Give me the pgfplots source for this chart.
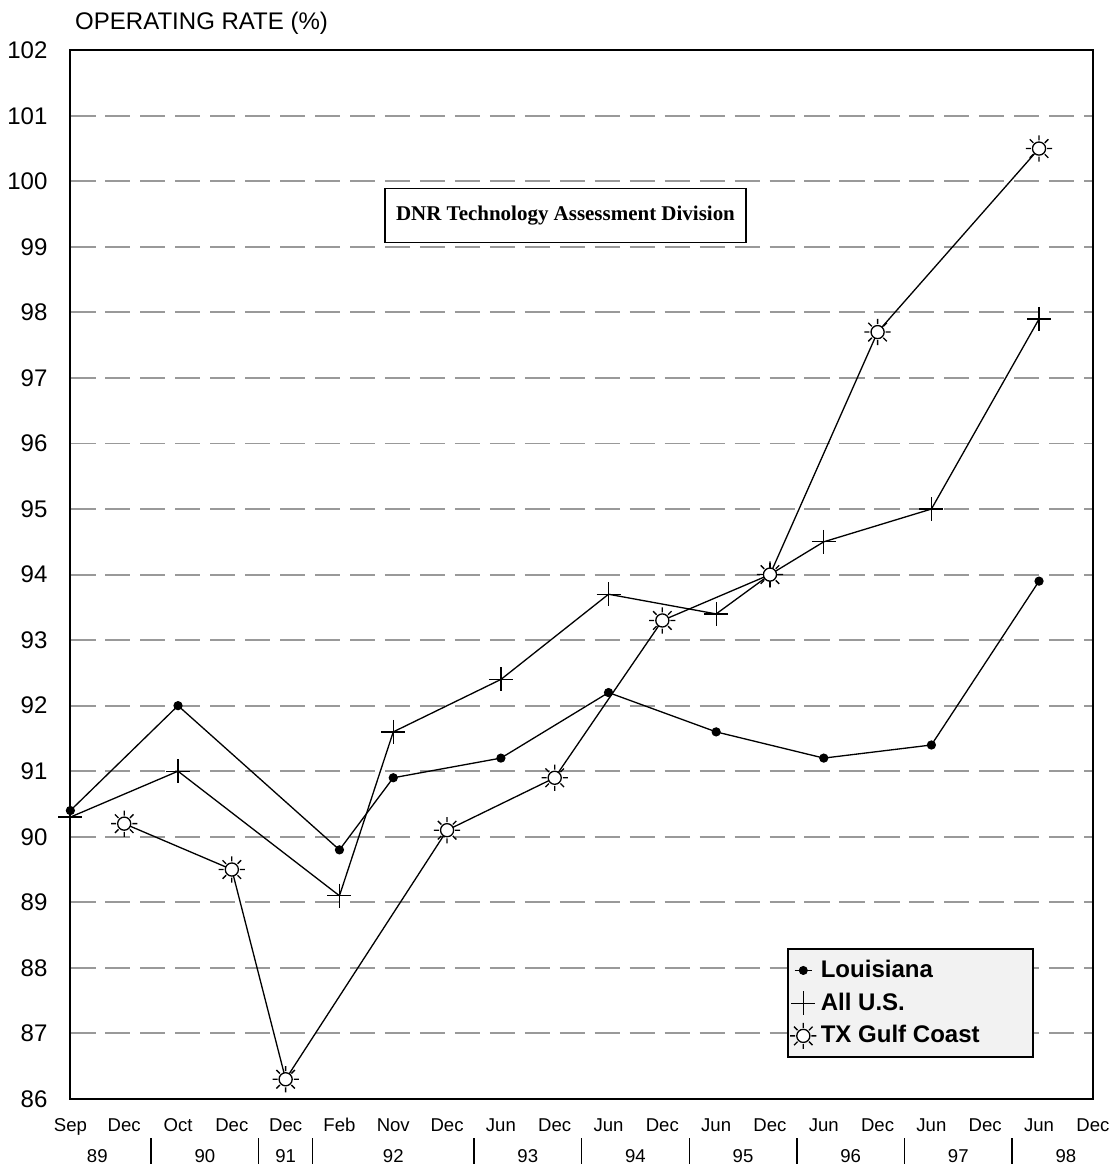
\documentclass[border=0pt]{standalone}
\usepackage{pgfplots}
\pgfplotsset{compat=1.18}
\usepackage{pgfplotstable}
\usepackage{fontspec}
\setmainfont{Liberation Sans}
\newfontfamily\timesfont{Liberation Serif}

% sun-like mark: small circle with rays
\pgfdeclareplotmark{sun}{%
  \pgfpathcircle{\pgfpointorigin}{0.5\pgfplotmarksize}%
  \pgfusepathqfillstroke
  \pgfpathmoveto{\pgfpointpolar{0}{0.62\pgfplotmarksize}}\pgfpathlineto{\pgfpointpolar{0}{\pgfplotmarksize}}%
  \pgfpathmoveto{\pgfpointpolar{45}{0.62\pgfplotmarksize}}\pgfpathlineto{\pgfpointpolar{45}{\pgfplotmarksize}}%
  \pgfpathmoveto{\pgfpointpolar{90}{0.62\pgfplotmarksize}}\pgfpathlineto{\pgfpointpolar{90}{\pgfplotmarksize}}%
  \pgfpathmoveto{\pgfpointpolar{135}{0.62\pgfplotmarksize}}\pgfpathlineto{\pgfpointpolar{135}{\pgfplotmarksize}}%
  \pgfpathmoveto{\pgfpointpolar{180}{0.62\pgfplotmarksize}}\pgfpathlineto{\pgfpointpolar{180}{\pgfplotmarksize}}%
  \pgfpathmoveto{\pgfpointpolar{225}{0.62\pgfplotmarksize}}\pgfpathlineto{\pgfpointpolar{225}{\pgfplotmarksize}}%
  \pgfpathmoveto{\pgfpointpolar{270}{0.62\pgfplotmarksize}}\pgfpathlineto{\pgfpointpolar{270}{\pgfplotmarksize}}%
  \pgfpathmoveto{\pgfpointpolar{315}{0.62\pgfplotmarksize}}\pgfpathlineto{\pgfpointpolar{315}{\pgfplotmarksize}}%
  \pgfusepathqstroke
}

\pgfplotsset{
  dot legend/.style={legend image code/.code={\draw[##1, line width=0.5pt, mark repeat=2, mark phase=2] plot coordinates {(0cm,0cm) (0.14cm,0cm) (0.28cm,0cm)};}},
  mark legend/.style={legend image code/.code={\draw[##1, only marks] plot coordinates {(0.14cm,0cm)};}},
}

% x index: 0=Sep 89, 1=Dec 89, 2=Oct 90, 3=Dec 90, 4=Dec 91, 5=Feb 92, 6=Nov 92, 7=Dec 92, 8=Jun 93, ...
\pgfplotstableread{
x y
0 90.4
2 92.0
5 89.8
6 90.9
8 91.2
10 92.2
12 91.6
14 91.2
16 91.4
18 93.9
}\louisiana

\pgfplotstableread{
x y
0 90.3
2 91.0
5 89.1
6 91.6
8 92.4
10 93.7
12 93.4
13 94.0
14 94.5
16 95.0
18 97.9
}\allus

\pgfplotstableread{
x y
1 90.2
3 89.5
4 86.3
7 90.1
9 90.9
11 93.3
13 94.0
15 97.7
18 100.5
}\txgulf

\begin{document}
\begin{tikzpicture}
\begin{axis}[
  scale only axis,
  width=468pt, height=480pt,
  xmin=0, xmax=19,
  ymin=86, ymax=102,
  ytick={86,...,102},
  xtick={0,...,19},
  xticklabels={Sep,Dec,Oct,Dec,Dec,Feb,Nov,Dec,Jun,Dec,Jun,Dec,Jun,Dec,Jun,Dec,Jun,Dec,Jun,Dec},
  x tick label style={font=\fontsize{8.5}{10}\selectfont, text height=1.6ex, text depth=0.3ex, yshift=-3pt},
  y tick label style={font=\fontsize{11}{13}\selectfont, xshift=-7pt},
  /pgf/number format/assume math mode=true,
  extra x ticks={0.5,2.5,4,6,8.5,10.5,12.5,14.5,16.5,18.5},
  extra x tick labels={89,90,91,92,93,94,95,96,97,98},
  extra x tick style={grid=none, tick label style={yshift=-14pt}},
  tick style={draw=none},
  axis line style={line width=1pt},
  ymajorgrids,
  grid style={gray!80, line width=0.9pt, dash pattern=on 11.5pt off 4.5pt},
  clip=false,
  legend style={at={(0.701,0.039)}, anchor=south west, draw=black, line width=0.8pt,
    fill=gray!10, font=\bfseries\fontsize{11}{13}\selectfont,
    row sep=1.5pt, inner xsep=1pt, inner ysep=3pt},
  legend cell align=left,
]
\addplot[black, line width=0.6pt, mark=*, mark size=1.8pt, dot legend] table {\louisiana};
\addlegendentry{Louisiana}
\addplot[black, line width=0.6pt, mark=+, mark size=5.5pt, mark options={line width=0.6pt}, mark legend] table {\allus};
\addlegendentry{All U.S.}
\addplot[black, line width=0.6pt, mark=sun, mark size=6pt, mark options={fill=white, line width=0.6pt}, mark legend] table {\txgulf};
\addlegendentry{\makebox[94pt][l]{TX Gulf Coast}}

\node[draw=black, line width=0.7pt, fill=white, inner xsep=5pt, inner ysep=8pt,
  font=\timesfont\bfseries\fontsize{9.6}{11}\selectfont] at (axis cs:9.2,99.48) {DNR Technology Assessment Division};

\pgfplotsinvokeforeach{1.5,3.5,4.5,7.5,9.5,11.5,13.5,15.5,17.5}{
  \draw[line width=0.6pt] ([yshift=-18pt]axis cs:#1,86) -- ([yshift=-30pt]axis cs:#1,86);
}
\node[anchor=south west, font=\fontsize{11}{13}\selectfont, inner sep=0pt] at ([xshift=2pt, yshift=7pt]rel axis cs:0,1) {OPERATING RATE (\%)};
\path ([yshift=23pt]rel axis cs:0,1) -- ([yshift=23pt]rel axis cs:0.5,1);
\end{axis}
\end{tikzpicture}
\end{document}
